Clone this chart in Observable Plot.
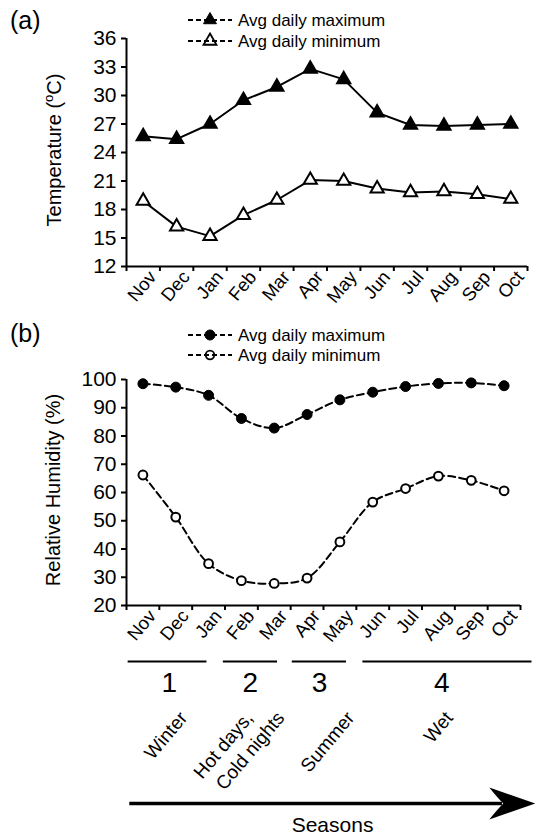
<!DOCTYPE html>
<html>
<head>
<meta charset="utf-8">
<script src="https://cdn.jsdelivr.net/npm/d3@7"></script>
<script src="https://cdn.jsdelivr.net/npm/@observablehq/plot@0.6"></script>
<style>
  html, body { margin: 0; padding: 0; background: #fff; }
  #fig { position: relative; width: 536px; height: 836px; font-family: 'Liberation Sans', Arial, Helvetica, sans-serif; color: #000; overflow: hidden; }
  #fig > * { position: absolute; }
  .panel { font-size: 25px; line-height: 1; }
  .ytitle { font-size: 20px; white-space: nowrap; line-height: 1; transform: translate(-50%, -50%) rotate(-90deg); }
  .ytitle sup { font-size: 13px; vertical-align: 0; position: relative; top: -8px; }
  .leg { display: flex; align-items: center; font-size: 17px; white-space: nowrap; line-height: 1; }
  .leg svg { display: block; margin-right: 6px; overflow: visible; }
</style>
</head>
<body>
<div id="fig"></div>
<script>
// ---------------- data ----------------
const months = ["Nov","Dec","Jan","Feb","Mar","Apr","May","Jun","Jul","Aug","Sep","Oct"];
const tempMax = [25.7, 25.4, 27.0, 29.5, 30.9, 32.8, 31.7, 28.2, 26.9, 26.8, 26.9, 27.0];
const tempMin = [18.9, 16.2, 15.2, 17.4, 19.0, 21.1, 21.0, 20.2, 19.8, 19.9, 19.6, 19.1];
const rhMax   = [98.5, 97.3, 94.4, 86.2, 82.8, 87.6, 92.8, 95.5, 97.5, 98.6, 98.8, 97.8];
const rhMin   = [66.2, 51.3, 34.8, 28.8, 27.8, 29.7, 42.5, 56.6, 61.4, 65.8, 64.3, 60.6];
const tempTicks = [12, 15, 18, 21, 24, 27, 30, 33, 36];
const rhTicks = [20, 30, 40, 50, 60, 70, 80, 90, 100];
const seriesNames = ["Avg daily maximum", "Avg daily minimum"];
const seasonNumbers = ["1", "2", "3", "4"];
const seasonStart = [0.05, 2.95, 5.05, 7.2];   // in month-slot units
const seasonEnd   = [2.45, 4.6, 6.7, 12.35];
const seasonNumberAt = [1.3, 3.77, 5.88, 9.6];
const seasonLabelLines = ["Winter", "Hot days,", "Cold nights", "Summer", "Wet"];
const seasonLabelAt    = [1.74, 3.74, 4.7, 6.83, 9.83];
const arrowFrom = 0.1, arrowTo = 12.45;
const arrowTitle = "Seasons";

// ---------------- helpers ----------------
const font = "'Liberation Sans', Arial, Helvetica, sans-serif";
const rows = months.map((m, i) => ({i, month: m, pos: i + 0.5,
  tmax: tempMax[i], tmin: tempMin[i], hmax: rhMax[i], hmin: rhMin[i]}));
const bounds = d3.range(13);
const fig = document.getElementById("fig");

function place(el, left, top) { el.style.left = left + "px"; el.style.top = top + "px"; fig.appendChild(el); return el; }

function monthPanel({height, marginTop, marginBottom, marginRight, yDomain, yTicks, series}) {
  return Plot.plot({
    width: 536, height, marginLeft: 126, marginRight, marginTop, marginBottom,
    style: {fontFamily: font, color: "black", background: "transparent", overflow: "visible"},
    x: {domain: [0, 12], axis: null},
    y: {domain: yDomain, axis: null},
    marks: [
      Plot.axisY(yTicks, {tickSize: 5, tickPadding: 5, fontSize: 21, strokeWidth: 2, label: null}),
      Plot.axisX(bounds, {tickSize: 5, tickFormat: () => "", strokeWidth: 2, label: null}),
      Plot.ruleX([0], {strokeWidth: 2}),
      Plot.ruleY([yDomain[0]], {strokeWidth: 2}),
      Plot.text(rows, {x: "pos", text: "month", frameAnchor: "bottom", rotate: -50, textAnchor: "end",
        dx: 14, dy: 11, fontSize: 18.5, fill: "black"}),
      ...series
    ]
  });
}

// ---------------- panel (a) ----------------
const plotA = monthPanel({
  height: 322, marginTop: 38, marginBottom: 56, marginRight: 9,
  yDomain: [12, 36], yTicks: tempTicks,
  series: [
    Plot.line(rows, {x: "pos", y: "tmax", stroke: "black", strokeWidth: 2}),
    Plot.line(rows, {x: "pos", y: "tmin", stroke: "black", strokeWidth: 2}),
    Plot.dot(rows, {x: "pos", y: "tmax", symbol: "triangle", r: 5.2, fill: "black", stroke: "black", strokeWidth: 1.5}),
    Plot.dot(rows, {x: "pos", y: "tmin", symbol: "triangle", r: 4.9, fill: "white", stroke: "black", strokeWidth: 2})
  ]
});
place(plotA, 0, 0);

// ---------------- panel (b) ----------------
const plotB = monthPanel({
  height: 330, marginTop: 59, marginBottom: 45, marginRight: 16,
  yDomain: [20, 100], yTicks: rhTicks,
  series: [
    Plot.line(rows, {x: "pos", y: "hmax", stroke: "black", strokeWidth: 2, strokeDasharray: "7,4", curve: "catmull-rom"}),
    Plot.line(rows, {x: "pos", y: "hmin", stroke: "black", strokeWidth: 2, strokeDasharray: "7,4", curve: "catmull-rom"}),
    Plot.dot(rows, {x: "pos", y: "hmax", r: 5, fill: "black", stroke: "black", strokeWidth: 1}),
    Plot.dot(rows, {x: "pos", y: "hmin", r: 4.4, fill: "white", stroke: "black", strokeWidth: 2})
  ]
});
place(plotB, 0, 320);

// ---------------- seasons annotation ----------------
const seasons = seasonNumbers.map((n, i) => ({num: n, start: seasonStart[i], end: seasonEnd[i], at: seasonNumberAt[i]}));
const labelLines = seasonLabelLines.map((t, i) => ({text: t, at: seasonLabelAt[i]}));
const arrowData = [{from: arrowFrom, to: arrowTo, title: arrowTitle}];
const layoutY = {span: 11, number: 33, name: 64, arrow: 153, title: 175};
const arrowHead = {
  draw(context, size) {
    const s = Math.sqrt(size / Math.PI) / 16;
    context.moveTo(0, 0);
    context.lineTo(-46 * s, -16 * s);
    context.quadraticCurveTo(-38 * s, -6 * s, -32 * s, 0);
    context.quadraticCurveTo(-38 * s, 6 * s, -46 * s, 16 * s);
    context.closePath();
  }
};
const plotC = Plot.plot({
  width: 536, height: 186, marginLeft: 126, marginRight: 16, marginTop: 0, marginBottom: 0,
  style: {fontFamily: font, color: "black", background: "transparent", overflow: "visible"},
  x: {domain: [0, 12], axis: null},
  y: {type: "identity", axis: null},
  marks: [
    Plot.ruleY(seasons, {y: () => layoutY.span, x1: "start", x2: "end", stroke: "black", strokeWidth: 2}),
    Plot.text(seasons, {x: "at", y: () => layoutY.number, text: "num", fontSize: 28, fill: "black"}),
    Plot.text(labelLines, {x: "at", y: () => layoutY.name, text: "text", rotate: -50, textAnchor: "end", fontSize: 19, fill: "black"}),
    Plot.ruleY(arrowData, {y: () => layoutY.arrow, x1: "from", x2: d => d.to - 1, stroke: "black", strokeWidth: 3.5}),
    Plot.dot(arrowData, {x: "to", y: () => layoutY.arrow, symbol: arrowHead, r: 16, fill: "black", stroke: "none"}),
    Plot.text(arrowData, {x: d => (d.from + d.to) / 2, y: () => layoutY.title, text: "title", fontSize: 21, fill: "black"})
  ]
});
place(plotC, 0, 650);

// ---------------- panel letters, axis titles ----------------
const pa = document.createElement("div"); pa.className = "panel"; pa.textContent = "(a)"; place(pa, 10, 8);
const pb = document.createElement("div"); pb.className = "panel"; pb.textContent = "(b)"; place(pb, 10, 321);

const ta = document.createElement("div"); ta.className = "ytitle";
ta.append("Temperature (");
const sup = document.createElement("sup"); sup.textContent = "o"; ta.append(sup); ta.append("C)");
place(ta, 54, 150);
const tb = document.createElement("div"); tb.className = "ytitle"; tb.textContent = "Relative Humidity (%)";
place(tb, 53, 490);

// ---------------- legends ----------------
const NS = "http://www.w3.org/2000/svg";
function legendRow(name, kind, filled, left, cy) {
  const row = document.createElement("div"); row.className = "leg";
  const svg = document.createElementNS(NS, "svg");
  svg.setAttribute("width", 44); svg.setAttribute("height", 20);
  const line = document.createElementNS(NS, "line");
  line.setAttribute("x1", 0); line.setAttribute("x2", 44); line.setAttribute("y1", 10); line.setAttribute("y2", 10);
  line.setAttribute("stroke", "black"); line.setAttribute("stroke-width", 2); line.setAttribute("stroke-dasharray", "5,3");
  svg.appendChild(line);
  let m;
  if (kind === "triangle") {
    m = document.createElementNS(NS, "path");
    m.setAttribute("d", d3.symbol(d3.symbolTriangle, Math.PI * 4.8 * 4.8)());
    m.setAttribute("transform", "translate(22,10)");
  } else {
    m = document.createElementNS(NS, "circle");
    m.setAttribute("cx", 22); m.setAttribute("cy", 10); m.setAttribute("r", filled ? 5 : 4.3);
  }
  m.setAttribute("fill", filled ? "black" : "none");
  m.setAttribute("stroke", "black"); m.setAttribute("stroke-width", filled ? 1 : 1.8);
  svg.appendChild(m);
  row.appendChild(svg);
  const span = document.createElement("span"); span.textContent = name; row.appendChild(span);
  place(row, left, cy - 10);
}
legendRow(seriesNames[0], "triangle", true, 188, 20);
legendRow(seriesNames[1], "triangle", false, 188, 41);
legendRow(seriesNames[0], "circle", true, 188, 335);
legendRow(seriesNames[1], "circle", false, 188, 355);
</script>
</body>
</html>
